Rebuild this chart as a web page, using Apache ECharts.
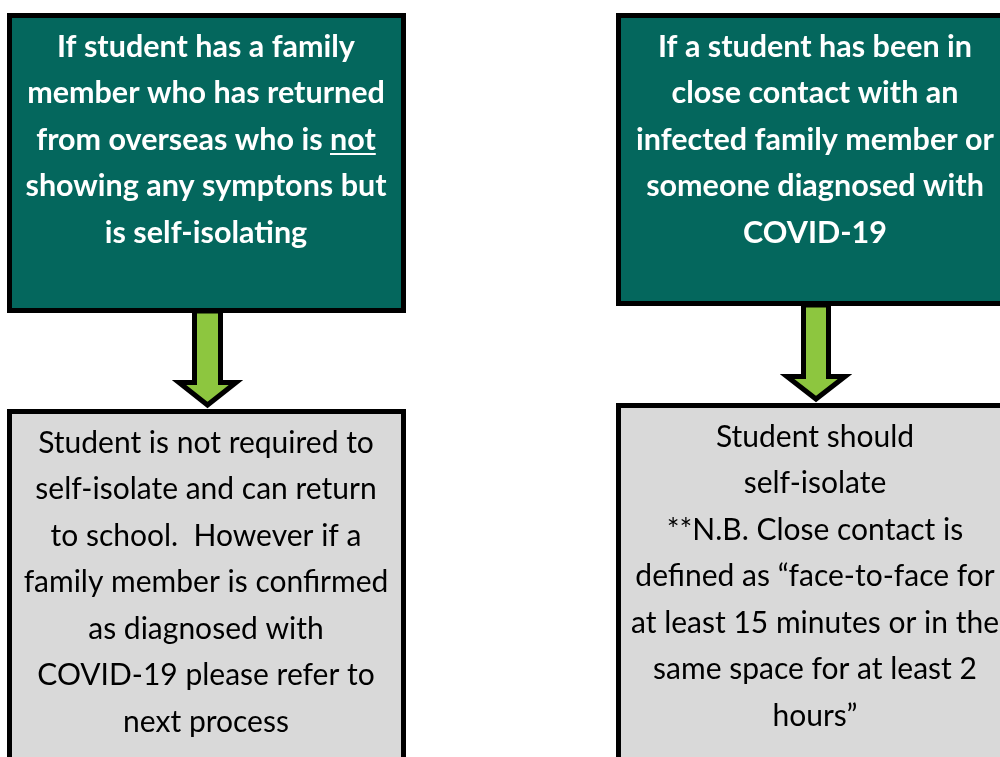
<!DOCTYPE html>
<html>
<head>
<meta charset="utf-8">
<script src="https://cdn.jsdelivr.net/npm/echarts@6/dist/echarts.min.js"></script>
<style>
html,body{margin:0;padding:0;background:#fff;}
#chart{width:1000px;height:757px;}
</style>
</head>
<body>
<div id="chart"></div>
<script>
// Texts of the flowchart
const leftCondition = [
  "If student has a family",
  "member who has returned",
  "from overseas who is not",
  "showing any symptons but",
  "is self-isolating"
];
const leftUnderlineWord = "not";   // underlined word on line 3
const rightCondition = [
  "If a student has been in",
  "close contact with an",
  "infected family member or",
  "someone diagnosed with",
  "COVID-19"
];
const leftOutcome = [
  "Student is not required to",
  "self-isolate and can return",
  "to school.  However if a",
  "family member is confirmed",
  "as diagnosed with",
  "COVID-19 please refer to",
  "next process"
];
const rightOutcome = [
  "Student should",
  "self-isolate",
  "**N.B. Close contact is",
  "defined as \u201cface-to-face for",
  "at least 15 minutes or in the",
  "same space for at least 2",
  "hours\u201d"
];

const TEAL = '#04675D';
const GREY = '#D9D9D9';
const GREEN = '#8DC63F';
const FONT = 'Lato, "Open Sans", sans-serif';
const boldSize = 30.5, regSize = 30;

const chart = echarts.init(document.getElementById('chart'), null, {renderer: 'canvas'});

const mctx = document.createElement('canvas').getContext('2d');
function measure(txt, weight, size) {
  mctx.font = weight + ' ' + size + 'px ' + FONT;
  return mctx.measureText(txt).width;
}

const elements = [];
function box(x, y, w, h, fill) {
  elements.push({type: 'rect', shape: {x, y, width: w, height: h},
    style: {fill, stroke: '#000', lineWidth: 5}, z: 1});
}
function lines(arr, cx, y0, step, color, weight, size) {
  arr.forEach((t, i) => {
    elements.push({type: 'text', x: cx, y: y0 + i * step, z: 5,
      style: {text: t, fill: color, font: weight + ' ' + size + 'px ' + FONT,
        textAlign: 'center', textVerticalAlign: 'middle'}});
  });
}
function arrow(cx, top, shaftHalf, headHalf, headY, tip) {
  elements.push({type: 'polygon', z: 3,
    shape: {points: [
      [cx - shaftHalf, top], [cx + shaftHalf, top], [cx + shaftHalf, headY],
      [cx + headHalf, headY], [cx, tip], [cx - headHalf, headY], [cx - shaftHalf, headY]
    ]},
    style: {fill: GREEN, stroke: '#000', lineWidth: 5, lineJoin: 'miter'}});
}

// boxes
box(9.5, 15.5, 394, 295, TEAL);
box(618.5, 15.5, 420, 288, TEAL);
box(9.5, 411.5, 394, 400, GREY);
box(618.5, 405.5, 420, 400, GREY);

// arrows
arrow(207.5, 311, 13, 28.5, 382.5, 405);
arrow(816, 305, 12.5, 29, 376.5, 399);

// texts
lines(leftCondition, 206, 47, 46.5, '#fff', 'bold', boldSize);
lines(rightCondition, 815, 47, 46.5, '#fff', 'bold', boldSize);
lines(leftOutcome, 206, 443, 46.5, '#000', 'normal', regSize);
lines(rightOutcome, 815, 437, 46.5, '#000', 'normal', regSize);

// underline under "not"
(function () {
  const line = leftCondition[2];
  const full = measure(line, 'bold', boldSize);
  const idx = line.lastIndexOf(leftUnderlineWord);
  const before = measure(line.slice(0, idx), 'bold', boldSize);
  const wordW = measure(leftUnderlineWord, 'bold', boldSize);
  const x0 = 206 - full / 2 + before;
  const y = 47 + 2 * 46.5 + 14;
  elements.push({type: 'line', z: 5, shape: {x1: x0, y1: y, x2: x0 + wordW, y2: y},
    style: {stroke: '#fff', lineWidth: 2}});
})();

chart.setOption({
  animation: false,
  backgroundColor: '#fff',
  graphic: {elements}
});
</script>
</body>
</html>
